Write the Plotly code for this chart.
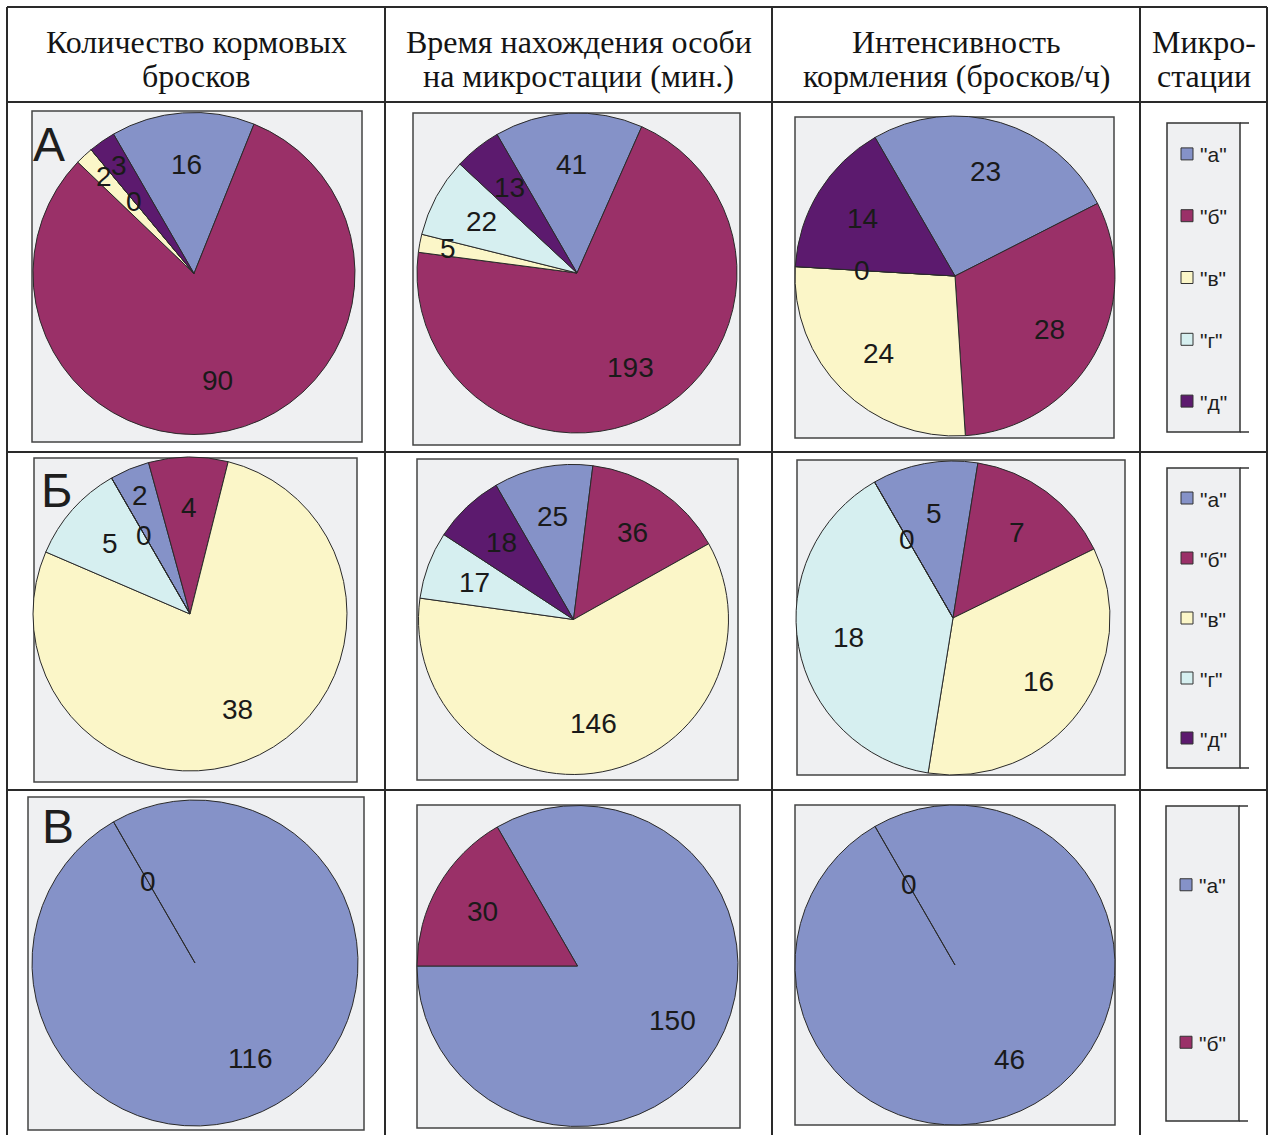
import math
import plotly.graph_objects as go

W, H = 1271, 1135

# ---------------- data ----------------
stations = ['"а"', '"б"', '"в"', '"г"', '"д"']
station_colors = ['#8592c8', '#9a3068', '#fbf6c8', '#d6eff0', '#5c1a6e']

row_names = ['А', 'Б', 'В']
col_titles = [['Количество кормовых', 'бросков'],
              ['Время нахождения особи', 'на микростации (мин.)'],
              ['Интенсивность', 'кормления (бросков/ч)'],
              ['Микро-', 'стации']]

counts_A = [16, 90, 2, 0, 3]
time_A = [41, 193, 5, 22, 13]
intensity_A = [23, 28, 24, 0, 14]

counts_B = [2, 4, 38, 5, 0]
time_B = [25, 36, 146, 17, 18]
intensity_B = [5, 7, 16, 18, 0]

counts_V = [116, 0]
time_V = [150, 30]
intensity_V = [46, 0]

table = [[counts_A, time_A, intensity_A],
         [counts_B, time_B, intensity_B],
         [counts_V, time_V, intensity_V]]

# ---------------- layout geometry (pixels) ----------------
col_lines = [7, 385, 772, 1140, 1267]
row_lines = [7, 102, 452, 790]
header_line_y = [42, 76]
boxes = [[(32, 111, 362, 442), (413, 113, 740, 445), (795, 117, 1114, 438)],
         [(34, 458, 357, 782), (417, 459, 738, 780), (797, 460, 1125, 775)],
         [(28, 797, 364, 1130), (417, 805, 740, 1128), (795, 805, 1115, 1125)]]
pies = [[(194, 273.5, 161), (577, 273, 160), (955, 276, 160)],
        [(190, 614, 157), (573.5, 619.5, 155), (953, 618, 157)],
        [(195, 963, 163), (577.5, 966, 160.5), (955, 965, 160)]]
legend_boxes = [(1167, 123, 1240, 432), (1167, 468, 1240, 768), (1166, 806, 1239, 1121)]
letter_pos = [(49, 144), (57, 490), (58, 826)]
START_ANGLE = -30


def px(x):
    return x / W


def py(y):
    return 1 - y / H


fig = go.Figure()
shapes = []
annotations = []

# table lines
for x in col_lines:
    shapes.append(dict(type='line', xref='paper', yref='paper', x0=px(x), x1=px(x),
                       y0=py(row_lines[0]), y1=py(H), line=dict(color='#2a2a2a', width=2)))
for y in row_lines:
    shapes.append(dict(type='line', xref='paper', yref='paper', x0=px(col_lines[0]), x1=px(col_lines[-1]),
                       y0=py(y), y1=py(y), line=dict(color='#2a2a2a', width=2)))

# headers
for j, lines in enumerate(col_titles):
    for li, t in enumerate(lines):
        annotations.append(dict(xref='paper', yref='paper', x=px((col_lines[j] + col_lines[j + 1]) / 2),
                                y=py(header_line_y[li]), text=t, showarrow=False,
                                font=dict(family='Liberation Serif, Times New Roman, serif', size=32,
                                          color='#141414'),
                                xanchor='center', yanchor='middle', align='center'))

k = 0
for i in range(3):
    for j in range(3):
        k += 1
        vals = table[i][j]
        n = len(vals)
        bx0, by0, bx1, by1 = boxes[i][j]
        shapes.append(dict(type='rect', xref='paper', yref='paper', layer='below',
                           x0=px(bx0), x1=px(bx1), y0=py(by1), y1=py(by0),
                           fillcolor='#eff0f2', line=dict(color='#444444', width=1.5)))
        cx, cy, r = pies[i][j]
        dom_x = [px(cx - r), px(cx + r)]
        dom_y = [py(cy + r), py(cy - r)]
        fig.add_trace(go.Pie(values=vals, labels=stations[:n], sort=False, direction='clockwise',
                             rotation=START_ANGLE, textinfo='none', hoverinfo='label+value',
                             marker=dict(colors=station_colors[:n], line=dict(color='#2a2a2a', width=1)),
                             domain=dict(x=dom_x, y=dom_y), showlegend=False))
        # overlay axes for labels
        xa = 'xaxis' if k == 1 else f'xaxis{k}'
        ya = 'yaxis' if k == 1 else f'yaxis{k}'
        xr = 'x' if k == 1 else f'x{k}'
        yr = 'y' if k == 1 else f'y{k}'
        fig.add_trace(go.Scatter(x=[None], y=[None], xaxis=xr, yaxis=yr, showlegend=False, hoverinfo='skip'))
        fig.layout[xa] = dict(domain=dom_x, range=[-1, 1], visible=False, fixedrange=True, anchor=yr)
        fig.layout[ya] = dict(domain=dom_y, range=[-1, 1], visible=False, fixedrange=True, anchor=xr)
        total = sum(vals)
        cum = 0
        for v in vals:
            mid = math.radians(START_ANGLE + (cum + v / 2) / total * 360)
            span = v / total * 360
            if v == 0:
                rad = 0.58
            elif span < 16:
                rad = 0.82
            else:
                rad = 0.68
            annotations.append(dict(xref=xr, yref=yr, x=rad * math.sin(mid), y=rad * math.cos(mid),
                                    text=str(v), showarrow=False, xanchor='center', yanchor='middle',
                                    font=dict(family='Liberation Sans, Arial, sans-serif', size=28,
                                              color='#1a1a1a')))
            cum += v

# row letters
for i, name in enumerate(row_names):
    lx, ly = letter_pos[i]
    annotations.append(dict(xref='paper', yref='paper', x=px(lx), y=py(ly), text=name, showarrow=False,
                            xanchor='center', yanchor='middle',
                            font=dict(family='Liberation Sans, Arial, sans-serif', size=48, color='#1e1e1e')))

# legends
legend_counts = [5, 5, 2]
for i in range(3):
    lx0, ly0, lx1, ly1 = legend_boxes[i]
    shapes.append(dict(type='rect', xref='paper', yref='paper', layer='below',
                       x0=px(lx0), x1=px(lx1), y0=py(ly1), y1=py(ly0),
                       fillcolor='#eff0f2', line=dict(color='#333333', width=1.5)))
    for yy in (ly0, ly1):
        shapes.append(dict(type='line', xref='paper', yref='paper', x0=px(lx1), x1=px(lx1 + 9),
                           y0=py(yy), y1=py(yy), line=dict(color='#333333', width=1.5)))
    n = legend_counts[i]
    step = (ly1 - ly0) / n
    for e in range(n):
        ey = ly0 + (e + 0.5) * step
        mx = lx0 + 20
        shapes.append(dict(type='rect', xref='paper', yref='paper',
                           x0=px(mx - 6), x1=px(mx + 6), y0=py(ey + 6), y1=py(ey - 6),
                           fillcolor=station_colors[e], line=dict(color='#333333', width=1)))
        annotations.append(dict(xref='paper', yref='paper', x=px(mx + 11), y=py(ey + 1), text=stations[e],
                                showarrow=False, xanchor='left', yanchor='middle',
                                font=dict(family='Liberation Sans, Arial, sans-serif', size=21,
                                          color='#1e1e1e')))

fig.update_layout(width=W, height=H, margin=dict(l=0, r=0, t=0, b=0),
                  paper_bgcolor='white', plot_bgcolor='rgba(0,0,0,0)',
                  shapes=shapes, annotations=annotations, showlegend=False)

fig.write_html('out.html')
